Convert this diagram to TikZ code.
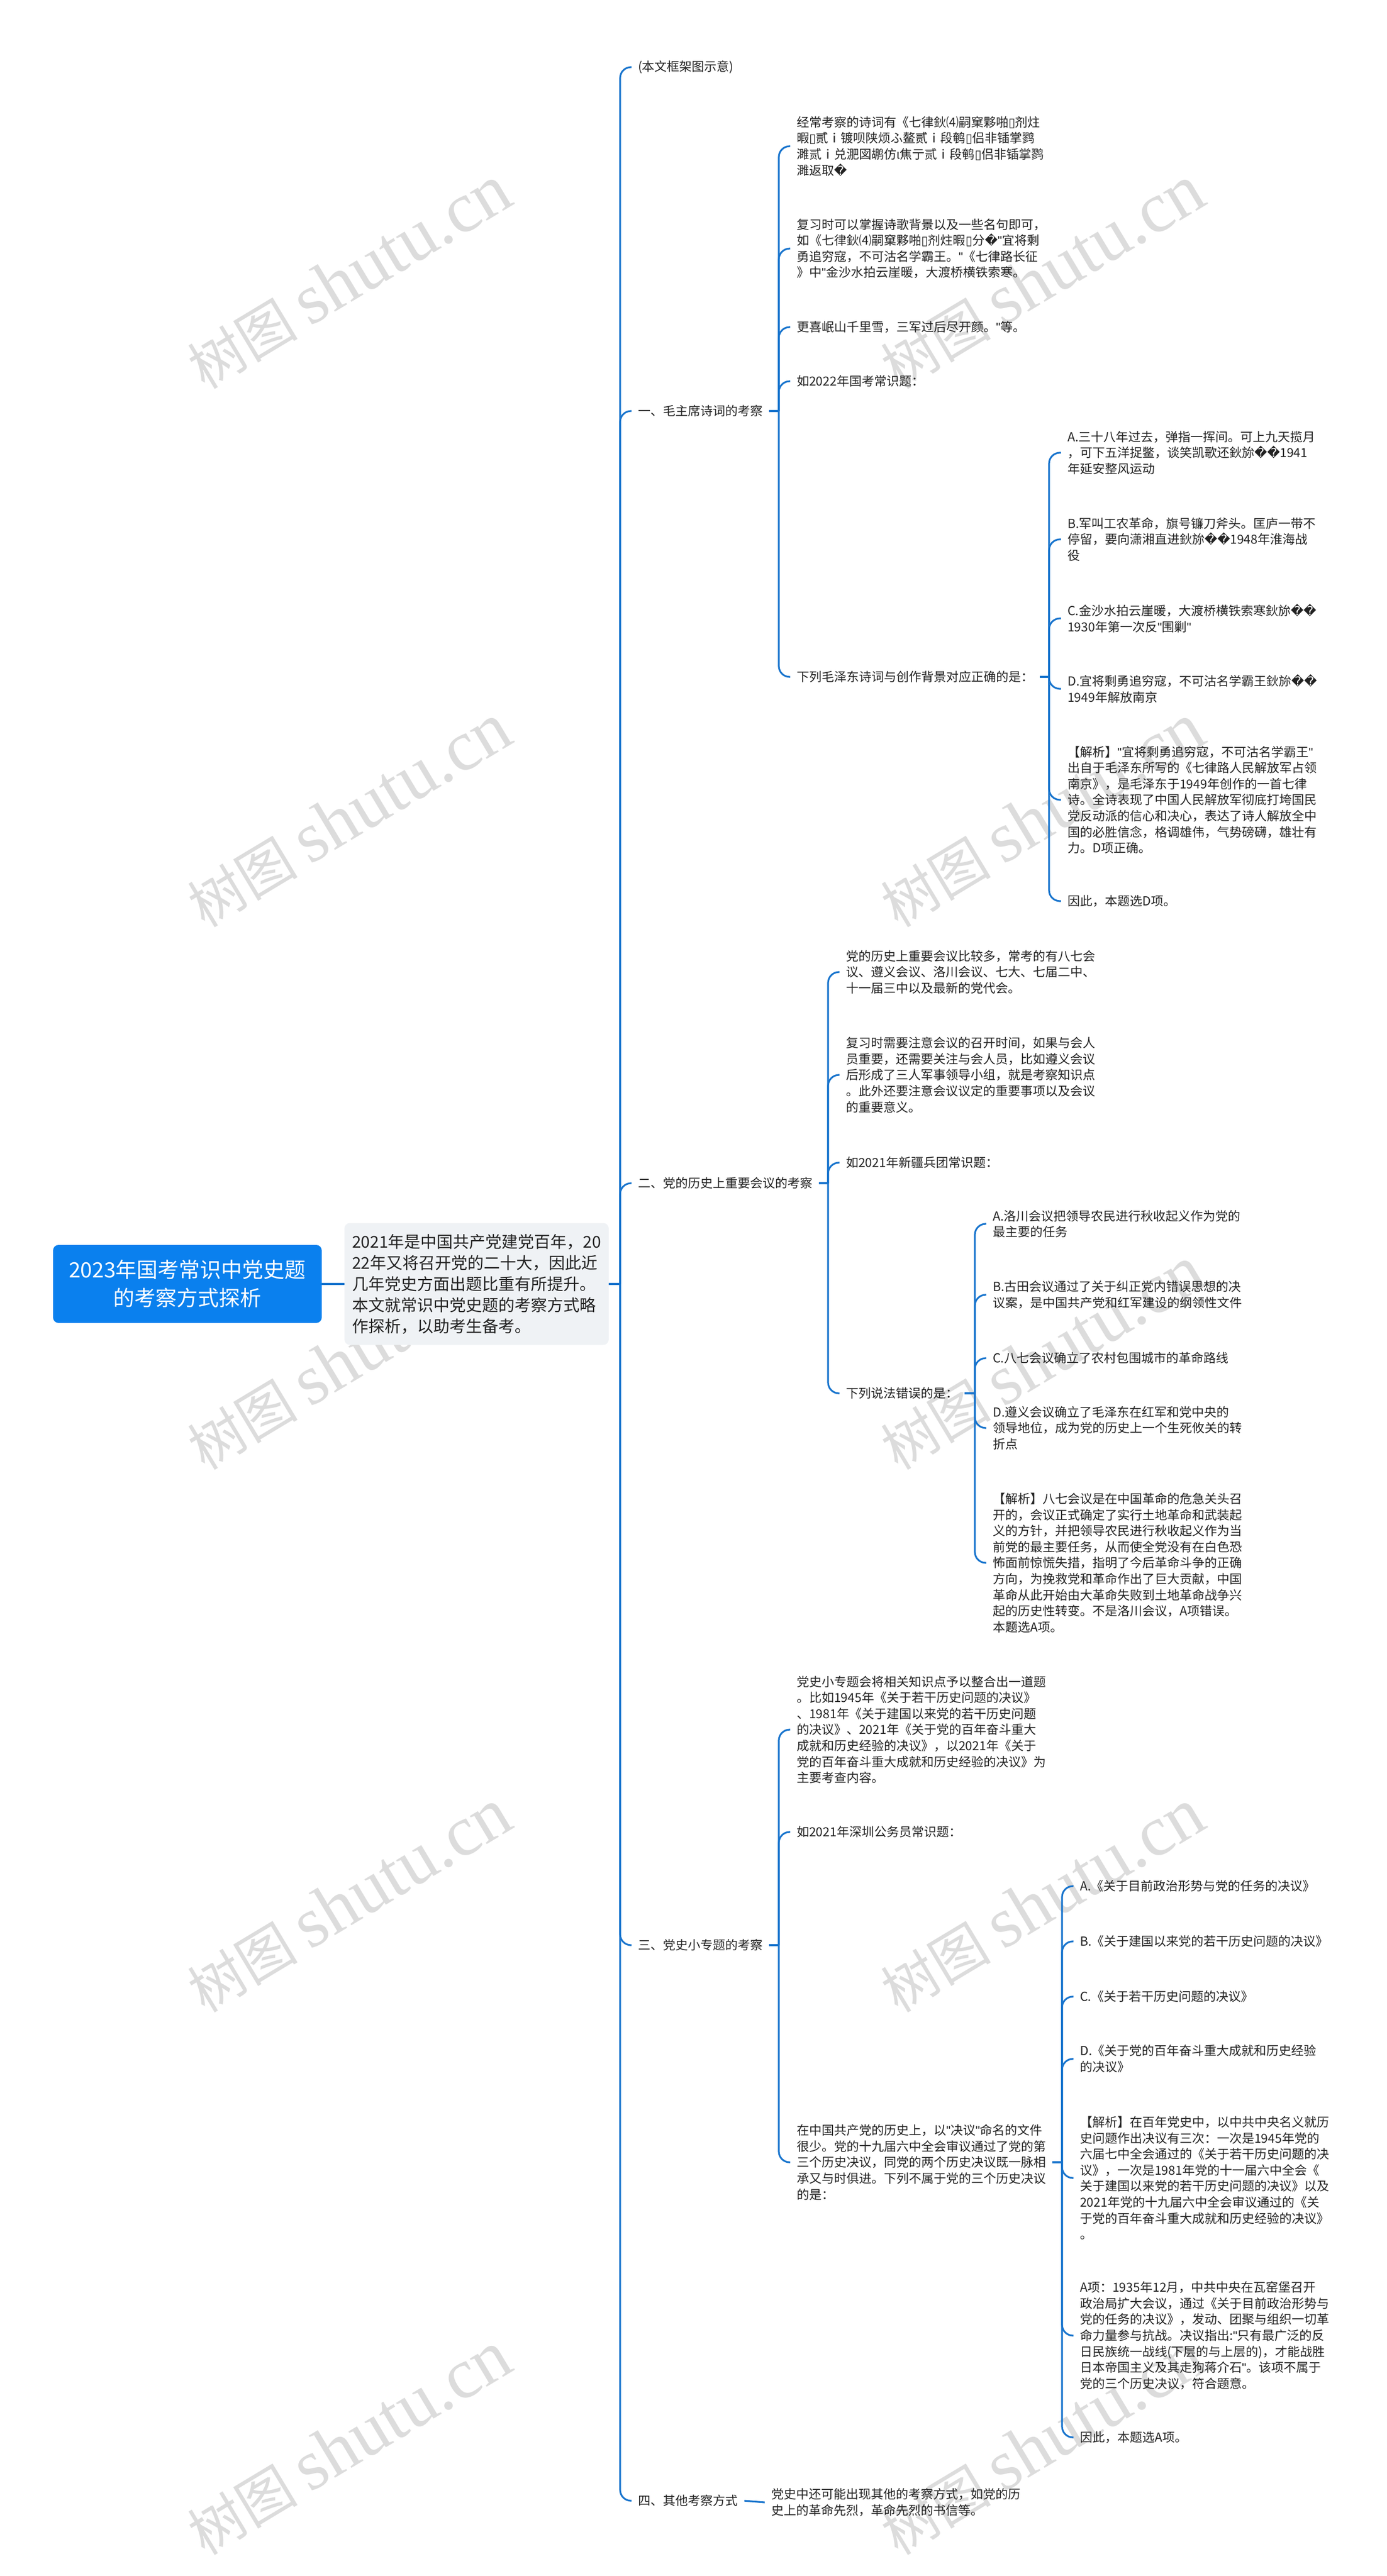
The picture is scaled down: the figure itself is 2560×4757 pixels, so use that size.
\documentclass[tikz,border=0pt]{standalone}
\usepackage{fontspec}
\setmainfont{Noto Sans CJK SC}
\newfontfamily\symfont{DejaVu Sans}
\newfontfamily\markfont{Liberation Serif}
\newfontfamily\quotefont{Liberation Sans}
\newcommand{\badchar}{{\symfont\symbol{"FFFD}}}
\newcommand{\tofu}{{\symfont\symbol{"25AF}}}
\newcommand{\qt}{{\quotefont\symbol{34}}}
\definecolor{linkblue}{HTML}{1874CD}
\definecolor{rootblue}{HTML}{0A80EE}
\definecolor{introgray}{HTML}{EFF2F5}
\definecolor{inktext}{HTML}{222222}
\definecolor{markgray}{HTML}{DCDCDC}
\begin{document}
\begin{tikzpicture}
[x=1pt,y=-1pt,
  rootdecorate/.style={shape=rectangle,fill=rootblue,rounded corners=10pt,minimum width=496pt,minimum height=144pt,
    align=center,text=white,font=\fontsize{39}{52}\selectfont},%
  introdecorate/.style={shape=rectangle,fill=introgray,rounded corners=10pt,minimum width=486pt,minimum height=225pt,
    align=left,inner xsep=14pt,text=inktext,font=\fontsize{30}{39}\selectfont},%
  leafdecorate/.style={anchor=west,align=left,inner xsep=12pt,inner ysep=0pt,text=inktext,font=\fontsize{23}{29.6}\selectfont},%
  linkdecorate/.style={-,line width=3.2pt,draw=linkblue},%
  branchdecorate/.style={linkdecorate,rounded corners=20pt},%
  markdecorate/.style={rotate=31,text=markgray,inner sep=0pt}]
\useasboundingbox (0,0) rectangle (2560,4757);
%% watermark
\foreach \markname/\x in {left/644, right/1924} {
  \foreach \y in {512, 1506, 2508, 3510, 4512} {
    \node (mark\markname\y) at (\x,\y) [markdecorate] {\fontsize{102}{102}\selectfont 树图 \markfont\fontsize{132}{132}\selectfont shutu.cn};
  }
}
%% nodes or vertices
\node (root) at (346,2371) [rootdecorate] {2023年国考常识中党史题\\的考察方式探析};
\node (intro) at (880,2371) [introdecorate] {2021年是中国共产党建党百年，20\\22年又将召开党的二十大，因此近\\几年党史方面出题比重有所提升。\\本文就常识中党史题的考察方式略\\作探析，以助考生备考。};
\foreach \nodename/\x/\y/\content in {
  frame/1166/124/{(本文框架图示意)},
  secone/1166/759/{一、毛主席诗词的考察},
  sectwo/1166/2185/{二、党的历史上重要会议的考察},
  secthree/1166/3592/{三、党史小专题的考察},
  secfour/1166/4618/{四、其他考察方式}} {
  \node (\nodename) at (\x,\y) [leafdecorate] {\content};
}
%% first section
\foreach \nodename/\x/\y/\content in {
  onea/1459/270/{经常考察的诗词有《七律鈥⑷嗣窠夥啪\tofu 剂炷\\暇\tofu 贰ⅰ镀呗陕烦ふ鳌贰ⅰ段鹌\tofu 侣非锸掌鹨\\濉贰ⅰ兑淝図鹕仿ι焦亍贰ⅰ段鹌\tofu 侣非锸掌鹨\\濉返取\badchar},
  oneb/1459/459/{复习时可以掌握诗歌背景以及一些名句即可，\\如《七律鈥⑷嗣窠夥啪\tofu 剂炷暇\tofu 分\badchar\qt 宜将剩\\勇追穷寇，不可沽名学霸王。\qt 《七律路长征\\》中\qt 金沙水拍云崖暖，大渡桥横铁索寒。},
  onec/1459/604/{更喜岷山千里雪，三军过后尽开颜。\qt 等。},
  oned/1459/704/{如2022年国考常识题：},
  onee/1459/1250/{下列毛泽东诗词与创作背景对应正确的是：},
  oneqa/1959/836/{A.三十八年过去，弹指一挥间。可上九天揽月\\，可下五洋捉鳖，谈笑凯歌还鈥旀\badchar\badchar 1941\\年延安整风运动},
  oneqb/1959/996/{B.军叫工农革命，旗号镰刀斧头。匡庐一带不\\停留，要向潇湘直进鈥旀\badchar\badchar 1948年淮海战\\役},
  oneqc/1959/1142/{C.金沙水拍云崖暖，大渡桥横铁索寒鈥旀\badchar\badchar\\1930年第一次反\qt 围剿\qt},
  oneqd/1959/1272/{D.宜将剩勇追穷寇，不可沽名学霸王鈥旀\badchar\badchar\\1949年解放南京},
  oneqe/1959/1477/{【解析】\qt 宜将剩勇追穷寇，不可沽名学霸王\qt\\出自于毛泽东所写的《七律路人民解放军占领\\南京》，是毛泽东于1949年创作的一首七律\\诗。全诗表现了中国人民解放军彻底打垮国民\\党反动派的信心和决心，表达了诗人解放全中\\国的必胜信念，格调雄伟，气势磅礴，雄壮有\\力。D项正确。},
  oneqf/1959/1664/{因此，本题选D项。}} {
  \node (\nodename) at (\x,\y) [leafdecorate] {\content};
}
%% second section
\foreach \nodename/\x/\y/\content in {
  twoa/1550/1795/{党的历史上重要会议比较多，常考的有八七会\\议、遵义会议、洛川会议、七大、七届二中、\\十一届三中以及最新的党代会。},
  twob/1550/1985/{复习时需要注意会议的召开时间，如果与会人\\员重要，还需要关注与会人员，比如遵义会议\\后形成了三人军事领导小组，就是考察知识点\\。此外还要注意会议议定的重要事项以及会议\\的重要意义。},
  twoc/1550/2147/{如2021年新疆兵团常识题：},
  twod/1550/2573/{下列说法错误的是：},
  twoqa/1821/2260/{A.洛川会议把领导农民进行秋收起义作为党的\\最主要的任务},
  twoqb/1821/2391/{B.古田会议通过了关于纠正党内错误思想的决\\议案，是中国共产党和红军建设的纲领性文件},
  twoqc/1821/2508/{C.八七会议确立了农村包围城市的革命路线},
  twoqd/1821/2637/{D.遵义会议确立了毛泽东在红军和党中央的\\领导地位，成为党的历史上一个生死攸关的转\\折点},
  twoqe/1821/2886/{【解析】八七会议是在中国革命的危急关头召\\开的，会议正式确定了实行土地革命和武装起\\义的方针，并把领导农民进行秋收起义作为当\\前党的最主要任务，从而使全党没有在白色恐\\怖面前惊慌失措，指明了今后革命斗争的正确\\方向，为挽救党和革命作出了巨大贡献，中国\\革命从此开始由大革命失败到土地革命战争兴\\起的历史性转变。不是洛川会议，A项错误。\\本题选A项。}} {
  \node (\nodename) at (\x,\y) [leafdecorate] {\content};
}
%% third section
\foreach \nodename/\x/\y/\content in {
  threea/1459/3194/{党史小专题会将相关知识点予以整合出一道题\\。比如1945年《关于若干历史问题的决议》\\、1981年《关于建国以来党的若干历史问题\\的决议》、2021年《关于党的百年奋斗重大\\成就和历史经验的决议》，以2021年《关于\\党的百年奋斗重大成就和历史经验的决议》为\\主要考查内容。},
  threeb/1459/3383/{如2021年深圳公务员常识题：},
  threec/1459/3993/{在中国共产党的历史上，以\qt 决议\qt 命名的文件\\很少。党的十九届六中全会审议通过了党的第\\三个历史决议，同党的两个历史决议既一脉相\\承又与时俱进。下列不属于党的三个历史决议\\的是：},
  threeqa/1982/3483/{A.《关于目前政治形势与党的任务的决议》},
  threeqb/1982/3585/{B.《关于建国以来党的若干历史问题的决议》},
  threeqc/1982/3687/{C.《关于若干历史问题的决议》},
  threeqd/1982/3802/{D.《关于党的百年奋斗重大成就和历史经验\\的决议》},
  threeqe/1982/4022/{【解析】在百年党史中，以中共中央名义就历\\史问题作出决议有三次：一次是1945年党的\\六届七中全会通过的《关于若干历史问题的决\\议》，一次是1981年党的十一届六中全会《\\关于建国以来党的若干历史问题的决议》以及\\2021年党的十九届六中全会审议通过的《关\\于党的百年奋斗重大成就和历史经验的决议》\\。},
  threeqf/1982/4313/{A项：1935年12月，中共中央在瓦窑堡召开\\政治局扩大会议，通过《关于目前政治形势与\\党的任务的决议》，发动、团聚与组织一切革\\命力量参与抗战。决议指出:\qt 只有最广泛的反\\日民族统一战线(下层的与上层的)，才能战胜\\日本帝国主义及其走狗蒋介石\qt 。该项不属于\\党的三个历史决议，符合题意。},
  threeqg/1982/4501/{因此，本题选A项。},
  foura/1412/4621/{党史中还可能出现其他的考察方式，如党的历\\史上的革命先烈，革命先烈的书信等。}} {
  \node (\nodename) at (\x,\y) [leafdecorate] {\content};
}
%% hubs on the trunks
\foreach \hubname/\x/\y in {hubzero/1145/2371, hubone/1438/759, hubtwo/1529/2185, hubthree/1438/3592,
  hubonee/1937/1250, hubtwod/1800/2573, hubthreec/1961/3993} {
  \coordinate (\hubname) at (\x,\y);
}
%% edges or lines
\foreach \startnode/\endnode in {root/intro, intro/hubzero, secone/hubone, sectwo/hubtwo, secthree/hubthree,
  onee/hubonee, twod/hubtwod, threec/hubthreec} {
  \draw[linkdecorate] (\startnode) -- (\endnode);
}
\draw[linkdecorate] (secfour.east) -- (foura.west);
\foreach \startnode/\endnode in {hubzero/frame, hubzero/secone, hubzero/sectwo, hubzero/secthree, hubzero/secfour,
  hubone/onea, hubone/oneb, hubone/onec, hubone/oned, hubone/onee,
  hubonee/oneqa, hubonee/oneqb, hubonee/oneqc, hubonee/oneqd, hubonee/oneqe, hubonee/oneqf,
  hubtwo/twoa, hubtwo/twob, hubtwo/twoc, hubtwo/twod,
  hubtwod/twoqa, hubtwod/twoqb, hubtwod/twoqc, hubtwod/twoqd, hubtwod/twoqe,
  hubthree/threea, hubthree/threeb, hubthree/threec,
  hubthreec/threeqa, hubthreec/threeqb, hubthreec/threeqc, hubthreec/threeqd, hubthreec/threeqe, hubthreec/threeqf, hubthreec/threeqg} {
  \draw[branchdecorate] (\startnode) |- (\endnode.west);
}
\end{tikzpicture}
\end{document}
